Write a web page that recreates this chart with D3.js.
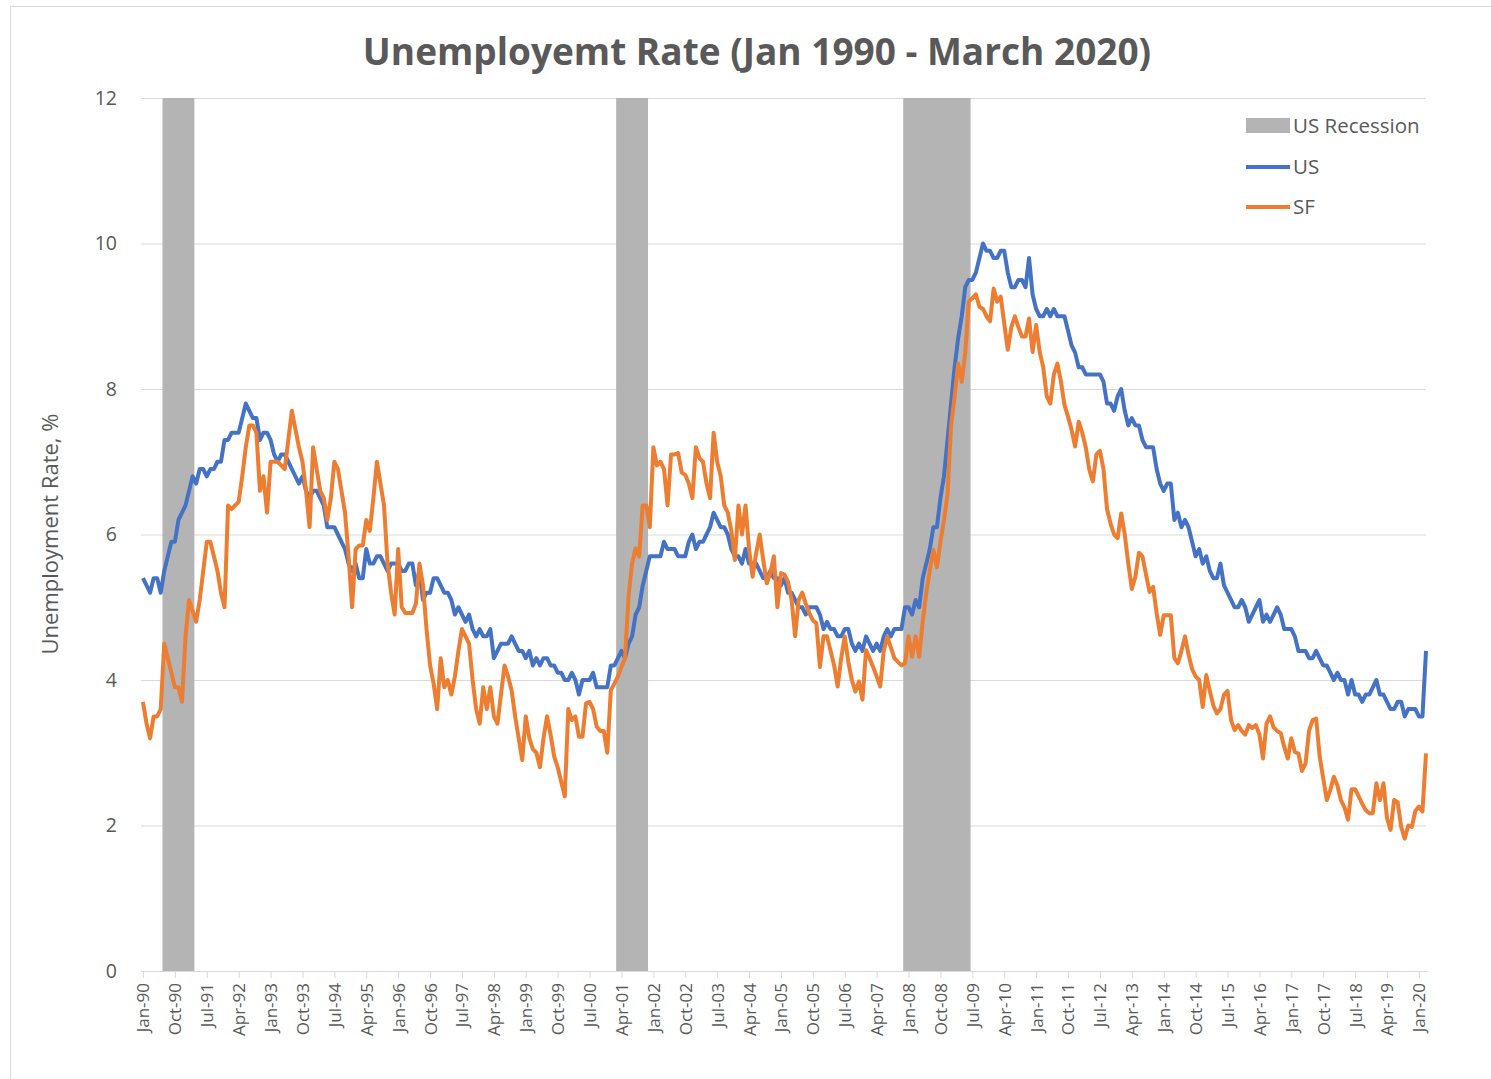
<!DOCTYPE html>
<html>
<head>
<meta charset="utf-8">
<title>Unemployemt Rate (Jan 1990 - March 2020)</title>
<script src="https://cdn.jsdelivr.net/npm/d3@7"></script>
<style>
	html, body { margin: 0; padding: 0; background: #ffffff; }
	svg { display: block; font-family: "Open Sans", "Noto Sans", sans-serif; }
</style>
</head>
<body>
<svg id="chart" width="1491" height="1079"></svg>
<script>

	/**
	 * Monthly unemployment rate, Jan 1990 .. Mar 2020 (one value per month)
	 */
	var usRate = [
		5.4, 5.3, 5.2, 5.4, 5.4, 5.2, 5.5, 5.7, 5.9, 5.9, 6.2, 6.3,
		6.4, 6.6, 6.8, 6.7, 6.9, 6.9, 6.8, 6.9, 6.9, 7.0, 7.0, 7.3,
		7.3, 7.4, 7.4, 7.4, 7.6, 7.8, 7.7, 7.6, 7.6, 7.3, 7.4, 7.4,
		7.3, 7.1, 7.0, 7.1, 7.1, 7.0, 6.9, 6.8, 6.7, 6.8, 6.6, 6.5,
		6.6, 6.6, 6.5, 6.4, 6.1, 6.1, 6.1, 6.0, 5.9, 5.8, 5.6, 5.5,
		5.6, 5.4, 5.4, 5.8, 5.6, 5.6, 5.7, 5.7, 5.6, 5.5, 5.6, 5.6,
		5.6, 5.5, 5.5, 5.6, 5.6, 5.3, 5.5, 5.1, 5.2, 5.2, 5.4, 5.4,
		5.3, 5.2, 5.2, 5.1, 4.9, 5.0, 4.9, 4.8, 4.9, 4.7, 4.6, 4.7,
		4.6, 4.6, 4.7, 4.3, 4.4, 4.5, 4.5, 4.5, 4.6, 4.5, 4.4, 4.4,
		4.3, 4.4, 4.2, 4.3, 4.2, 4.3, 4.3, 4.2, 4.2, 4.1, 4.1, 4.0,
		4.0, 4.1, 4.0, 3.8, 4.0, 4.0, 4.0, 4.1, 3.9, 3.9, 3.9, 3.9,
		4.2, 4.2, 4.3, 4.4, 4.3, 4.5, 4.6, 4.9, 5.0, 5.3, 5.5, 5.7,
		5.7, 5.7, 5.7, 5.9, 5.8, 5.8, 5.8, 5.7, 5.7, 5.7, 5.9, 6.0,
		5.8, 5.9, 5.9, 6.0, 6.1, 6.3, 6.2, 6.1, 6.1, 6.0, 5.8, 5.7,
		5.7, 5.6, 5.8, 5.6, 5.6, 5.6, 5.5, 5.4, 5.4, 5.5, 5.4, 5.4,
		5.3, 5.4, 5.2, 5.2, 5.1, 5.0, 5.0, 4.9, 5.0, 5.0, 5.0, 4.9,
		4.7, 4.8, 4.7, 4.7, 4.6, 4.6, 4.7, 4.7, 4.5, 4.4, 4.5, 4.4,
		4.6, 4.5, 4.4, 4.5, 4.4, 4.6, 4.7, 4.6, 4.7, 4.7, 4.7, 5.0,
		5.0, 4.9, 5.1, 5.0, 5.4, 5.6, 5.8, 6.1, 6.1, 6.5, 6.8, 7.3,
		7.8, 8.3, 8.7, 9.0, 9.4, 9.5, 9.5, 9.6, 9.8, 10.0, 9.9, 9.9,
		9.8, 9.8, 9.9, 9.9, 9.6, 9.4, 9.4, 9.5, 9.5, 9.4, 9.8, 9.3,
		9.1, 9.0, 9.0, 9.1, 9.0, 9.1, 9.0, 9.0, 9.0, 8.8, 8.6, 8.5,
		8.3, 8.3, 8.2, 8.2, 8.2, 8.2, 8.2, 8.1, 7.8, 7.8, 7.7, 7.9,
		8.0, 7.7, 7.5, 7.6, 7.5, 7.5, 7.3, 7.2, 7.2, 7.2, 6.9, 6.7,
		6.6, 6.7, 6.7, 6.2, 6.3, 6.1, 6.2, 6.1, 5.9, 5.7, 5.8, 5.6,
		5.7, 5.5, 5.4, 5.4, 5.6, 5.3, 5.2, 5.1, 5.0, 5.0, 5.1, 5.0,
		4.8, 4.9, 5.0, 5.1, 4.8, 4.9, 4.8, 4.9, 5.0, 4.9, 4.7, 4.7,
		4.7, 4.6, 4.4, 4.4, 4.4, 4.3, 4.3, 4.4, 4.3, 4.2, 4.2, 4.1,
		4.0, 4.1, 4.0, 4.0, 3.8, 4.0, 3.8, 3.8, 3.7, 3.8, 3.8, 3.9,
		4.0, 3.8, 3.8, 3.7, 3.6, 3.6, 3.7, 3.7, 3.5, 3.6, 3.6, 3.6,
		3.5, 3.5, 4.4
	];

	var sfRate = [
		3.7, 3.4, 3.2, 3.5, 3.5, 3.6, 4.5, 4.3, 4.1, 3.9, 3.9, 3.7,
		4.6, 5.1, 4.95, 4.8, 5.1, 5.5, 5.9, 5.9, 5.7, 5.5, 5.2, 5.0,
		6.4, 6.35, 6.4, 6.45, 6.8, 7.2, 7.5, 7.5, 7.4, 6.6, 6.8, 6.3,
		7.0, 7.0, 7.0, 6.95, 6.9, 7.3, 7.7, 7.45, 7.2, 7.0, 6.6, 6.1,
		7.2, 6.9, 6.6, 6.5, 6.2, 6.5, 7.0, 6.9, 6.6, 6.3, 5.7, 5.0,
		5.8, 5.85, 5.85, 6.2, 6.05, 6.5, 7.0, 6.7, 6.4, 5.6, 5.2, 4.9,
		5.8, 5.0, 4.92, 4.92, 4.92, 5.05, 5.6, 5.3, 4.7, 4.2, 3.95, 3.6,
		4.3, 3.9, 4.0, 3.8, 4.05, 4.4, 4.7, 4.6, 4.5, 4.0, 3.6, 3.4,
		3.9, 3.6, 3.9, 3.5, 3.4, 3.8, 4.2, 4.05, 3.86, 3.5, 3.2, 2.9,
		3.5, 3.2, 3.05, 3.0, 2.8, 3.2, 3.5, 3.25, 2.95, 2.8, 2.6, 2.4,
		3.6, 3.45, 3.5, 3.22, 3.22, 3.68, 3.7, 3.6, 3.36, 3.3, 3.3, 3.0,
		3.86, 3.95, 4.05, 4.18, 4.3, 5.15, 5.6, 5.81, 5.7, 6.4, 6.4, 6.1,
		7.2, 6.95, 7.0, 6.9, 6.4, 7.1, 7.1, 7.12, 6.85, 6.82, 6.7, 6.5,
		7.2, 7.05, 7.0, 6.7, 6.5, 7.4, 7.0, 6.8, 6.4, 6.3, 6.05, 5.65,
		6.4, 6.0, 6.4, 5.8, 5.42, 5.74, 6.0, 5.65, 5.33, 5.47, 5.7, 5.0,
		5.47, 5.45, 5.35, 5.1, 4.6, 5.1, 5.2, 5.05, 4.92, 4.82, 4.78, 4.18,
		4.6, 4.6, 4.4, 4.2, 3.91, 4.3, 4.6, 4.25, 4.0, 3.84, 3.98, 3.73,
		4.41, 4.3, 4.18, 4.05, 3.91, 4.4, 4.6, 4.45, 4.3, 4.25, 4.2, 4.23,
		4.6, 4.32, 4.6, 4.32, 4.8, 5.2, 5.51, 5.79, 5.55, 5.9, 6.2, 6.55,
		7.5, 7.9, 8.35, 8.1, 8.5, 9.2, 9.25, 9.3, 9.13, 9.1, 9.0, 8.93,
		9.38, 9.2, 9.27, 8.9, 8.54, 8.85, 9.0, 8.85, 8.72, 8.72, 8.97, 8.51,
		8.88, 8.51, 8.3, 7.9, 7.8, 8.2, 8.35, 8.1, 7.78, 7.62, 7.44, 7.21,
		7.55, 7.4, 7.2, 6.89, 6.73, 7.1, 7.15, 6.9, 6.35, 6.15, 6.0, 5.95,
		6.29, 6.0, 5.6, 5.25, 5.42, 5.75, 5.7, 5.45, 5.21, 5.28, 4.92, 4.62,
		4.89, 4.89, 4.89, 4.3, 4.23, 4.4, 4.6, 4.35, 4.15, 4.05, 4.0, 3.63,
		4.07, 3.85, 3.65, 3.54, 3.6, 3.8, 3.85, 3.45, 3.31, 3.38, 3.3, 3.25,
		3.38, 3.34, 3.38, 3.25, 2.92, 3.4, 3.5, 3.35, 3.3, 3.27, 3.08, 2.92,
		3.2, 3.01, 2.99, 2.75, 2.85, 3.3, 3.45, 3.47, 2.95, 2.65, 2.35, 2.49,
		2.67, 2.55, 2.35, 2.25, 2.08, 2.5, 2.5, 2.4, 2.3, 2.21, 2.17, 2.17,
		2.58, 2.35, 2.58, 2.1, 1.94, 2.35, 2.32, 1.98, 1.82, 2.0, 1.98, 2.2,
		2.26, 2.19, 2.99
	];

	/**
	 * US recessions, first and last month (inclusive)
	 */
	var recessions = [
		[ '1990-07', '1991-03' ],
		[ '2001-03', '2001-11' ],
		[ '2007-12', '2009-06' ]
	];

	var yTicks = [ 0, 2, 4, 6, 8, 10, 12 ];
	var labelEvery = 9;	// one category label every 9 months

	var chartTitle = 'Unemployemt Rate (Jan 1990 - March 2020)';
	var yTitle = 'Unemployment Rate, %';
	var seriesNames = [ 'US Recession', 'US', 'SF' ];
	var colors = { recession: '#b4b4b4', us: '#4472c4', sf: '#ed7d31', text: '#595959', grid: '#d9d9d9' };


	// categories: one per month
	var parseMonth = d3.timeParse( '%Y-%m' );
	var months = d3.timeMonth.range( new Date( 1990, 0, 1 ), new Date( 2020, 3, 1 ) );
	var monthLabel = d3.timeFormat( '%b-%y' );

	var svg = d3.select( '#chart' );

	var x = d3.scaleLinear()
		.domain( [ 0, months.length - 1 ] )
		.range( [ 143, 1426 ] );

	var y = d3.scaleLinear()
		.domain( [ 0, 12 ] )
		.range( [ 971, 98 ] );

	var step = x( 1 ) - x( 0 );

	// outer frame
	svg.append( 'rect' )
		.attr( 'x', 10.5 ).attr( 'y', 6.5 )
		.attr( 'width', 1500 ).attr( 'height', 1090 )
		.attr( 'fill', 'none' )
		.attr( 'stroke', colors.grid );

	// title
	svg.append( 'text' )
		.attr( 'x', 757 ).attr( 'y', 65 )
		.attr( 'text-anchor', 'middle' )
		.attr( 'font-size', 37 )
		.attr( 'font-weight', 'bold' )
		.attr( 'fill', colors.text )
		.text( chartTitle );

	// horizontal grid + y labels
	var yAxis = d3.axisLeft( y )
		.tickValues( yTicks )
		.tickSize( -( x.range()[ 1 ] - 141 ) )
		.tickPadding( 24 );

	svg.append( 'g' )
		.attr( 'class', 'y-axis' )
		.attr( 'transform', 'translate(141,0)' )
		.call( yAxis )
		.call( function( g ) {
			g.select( '.domain' ).remove();
			g.selectAll( '.tick line' ).attr( 'stroke', colors.grid ).attr( 'stroke-width', 1 );
			g.selectAll( '.tick text' )
				.attr( 'fill', colors.text )
				.attr( 'font-size', 19.5 )
				.attr( 'font-family', '"Open Sans", sans-serif' );
		} );

	// recession columns
	var monthIndex = function( s ) {
		return d3.timeMonth.count( months[ 0 ], parseMonth( s ) );
	};

	svg.append( 'g' )
		.selectAll( 'rect' )
		.data( recessions )
		.enter()
		.append( 'rect' )
			.attr( 'x', function( r ) { return x( monthIndex( r[ 0 ] ) ) - step / 2; } )
			.attr( 'width', function( r ) { return ( monthIndex( r[ 1 ] ) - monthIndex( r[ 0 ] ) + 1 ) * step; } )
			.attr( 'y', y( 12 ) )
			.attr( 'height', y( 0 ) - y( 12 ) )
			.attr( 'fill', colors.recession );

	// x axis with a label every 9 months
	var tickIdx = d3.range( 0, months.length, labelEvery );
	var xAxis = d3.axisBottom( x )
		.tickValues( tickIdx )
		.tickSize( 7 )
		.tickPadding( 4 )
		.tickFormat( function( i ) { return monthLabel( months[ i ] ); } );

	svg.append( 'g' )
		.attr( 'class', 'x-axis' )
		.attr( 'transform', 'translate(0,' + y( 0 ) + ')' )
		.call( xAxis )
		.call( function( g ) {
			g.select( '.domain' )
				.attr( 'stroke', colors.grid )
				.attr( 'd', 'M141,0.5H' + 1428 );
			g.selectAll( '.tick line' ).attr( 'stroke', colors.grid );
			g.selectAll( '.tick text' )
				.attr( 'fill', colors.text )
				.attr( 'font-size', 17 )
				.attr( 'font-family', '"Open Sans", sans-serif' )
				.attr( 'text-anchor', 'end' )
				.attr( 'dy', '0.35em' )
				.attr( 'transform', 'translate(0,12) rotate(-90)' )
				.attr( 'x', 0 ).attr( 'y', 0 );
		} );

	// lines
	var line = d3.line()
		.x( function( d, i ) { return x( i ); } )
		.y( function( d ) { return y( d ); } );

	svg.append( 'path' )
		.datum( usRate )
		.attr( 'fill', 'none' )
		.attr( 'stroke', colors.us )
		.attr( 'stroke-width', 4 )
		.attr( 'stroke-linejoin', 'round' )
		.attr( 'd', line );

	svg.append( 'path' )
		.datum( sfRate )
		.attr( 'fill', 'none' )
		.attr( 'stroke', colors.sf )
		.attr( 'stroke-width', 4 )
		.attr( 'stroke-linejoin', 'round' )
		.attr( 'd', line );

	// y axis title
	svg.append( 'text' )
		.attr( 'transform', 'translate(58,534) rotate(-90)' )
		.attr( 'text-anchor', 'middle' )
		.attr( 'font-size', 22 )
		.attr( 'fill', colors.text )
		.text( yTitle );

	// legend
	var legend = svg.append( 'g' ).attr( 'transform', 'translate(1246,0)' );
	var legendY = [ 126, 167, 207 ];

	legend.append( 'rect' )
		.attr( 'x', 0 ).attr( 'y', legendY[ 0 ] - 8 )
		.attr( 'width', 44 ).attr( 'height', 15 )
		.attr( 'fill', colors.recession );

	legend.append( 'line' )
		.attr( 'x1', 0 ).attr( 'x2', 44 )
		.attr( 'y1', legendY[ 1 ] ).attr( 'y2', legendY[ 1 ] )
		.attr( 'stroke', colors.us ).attr( 'stroke-width', 4 );

	legend.append( 'line' )
		.attr( 'x1', 0 ).attr( 'x2', 44 )
		.attr( 'y1', legendY[ 2 ] ).attr( 'y2', legendY[ 2 ] )
		.attr( 'stroke', colors.sf ).attr( 'stroke-width', 4 );

	legend.selectAll( 'text.legend-label' )
		.data( seriesNames )
		.enter()
		.append( 'text' )
			.attr( 'class', 'legend-label' )
			.attr( 'x', 47 )
			.attr( 'y', function( d, i ) { return legendY[ i ]; } )
			.attr( 'dy', '0.35em' )
			.attr( 'font-size', 20.5 )
			.attr( 'fill', colors.text )
			.text( function( d ) { return d; } );

</script>
</body>
</html>
